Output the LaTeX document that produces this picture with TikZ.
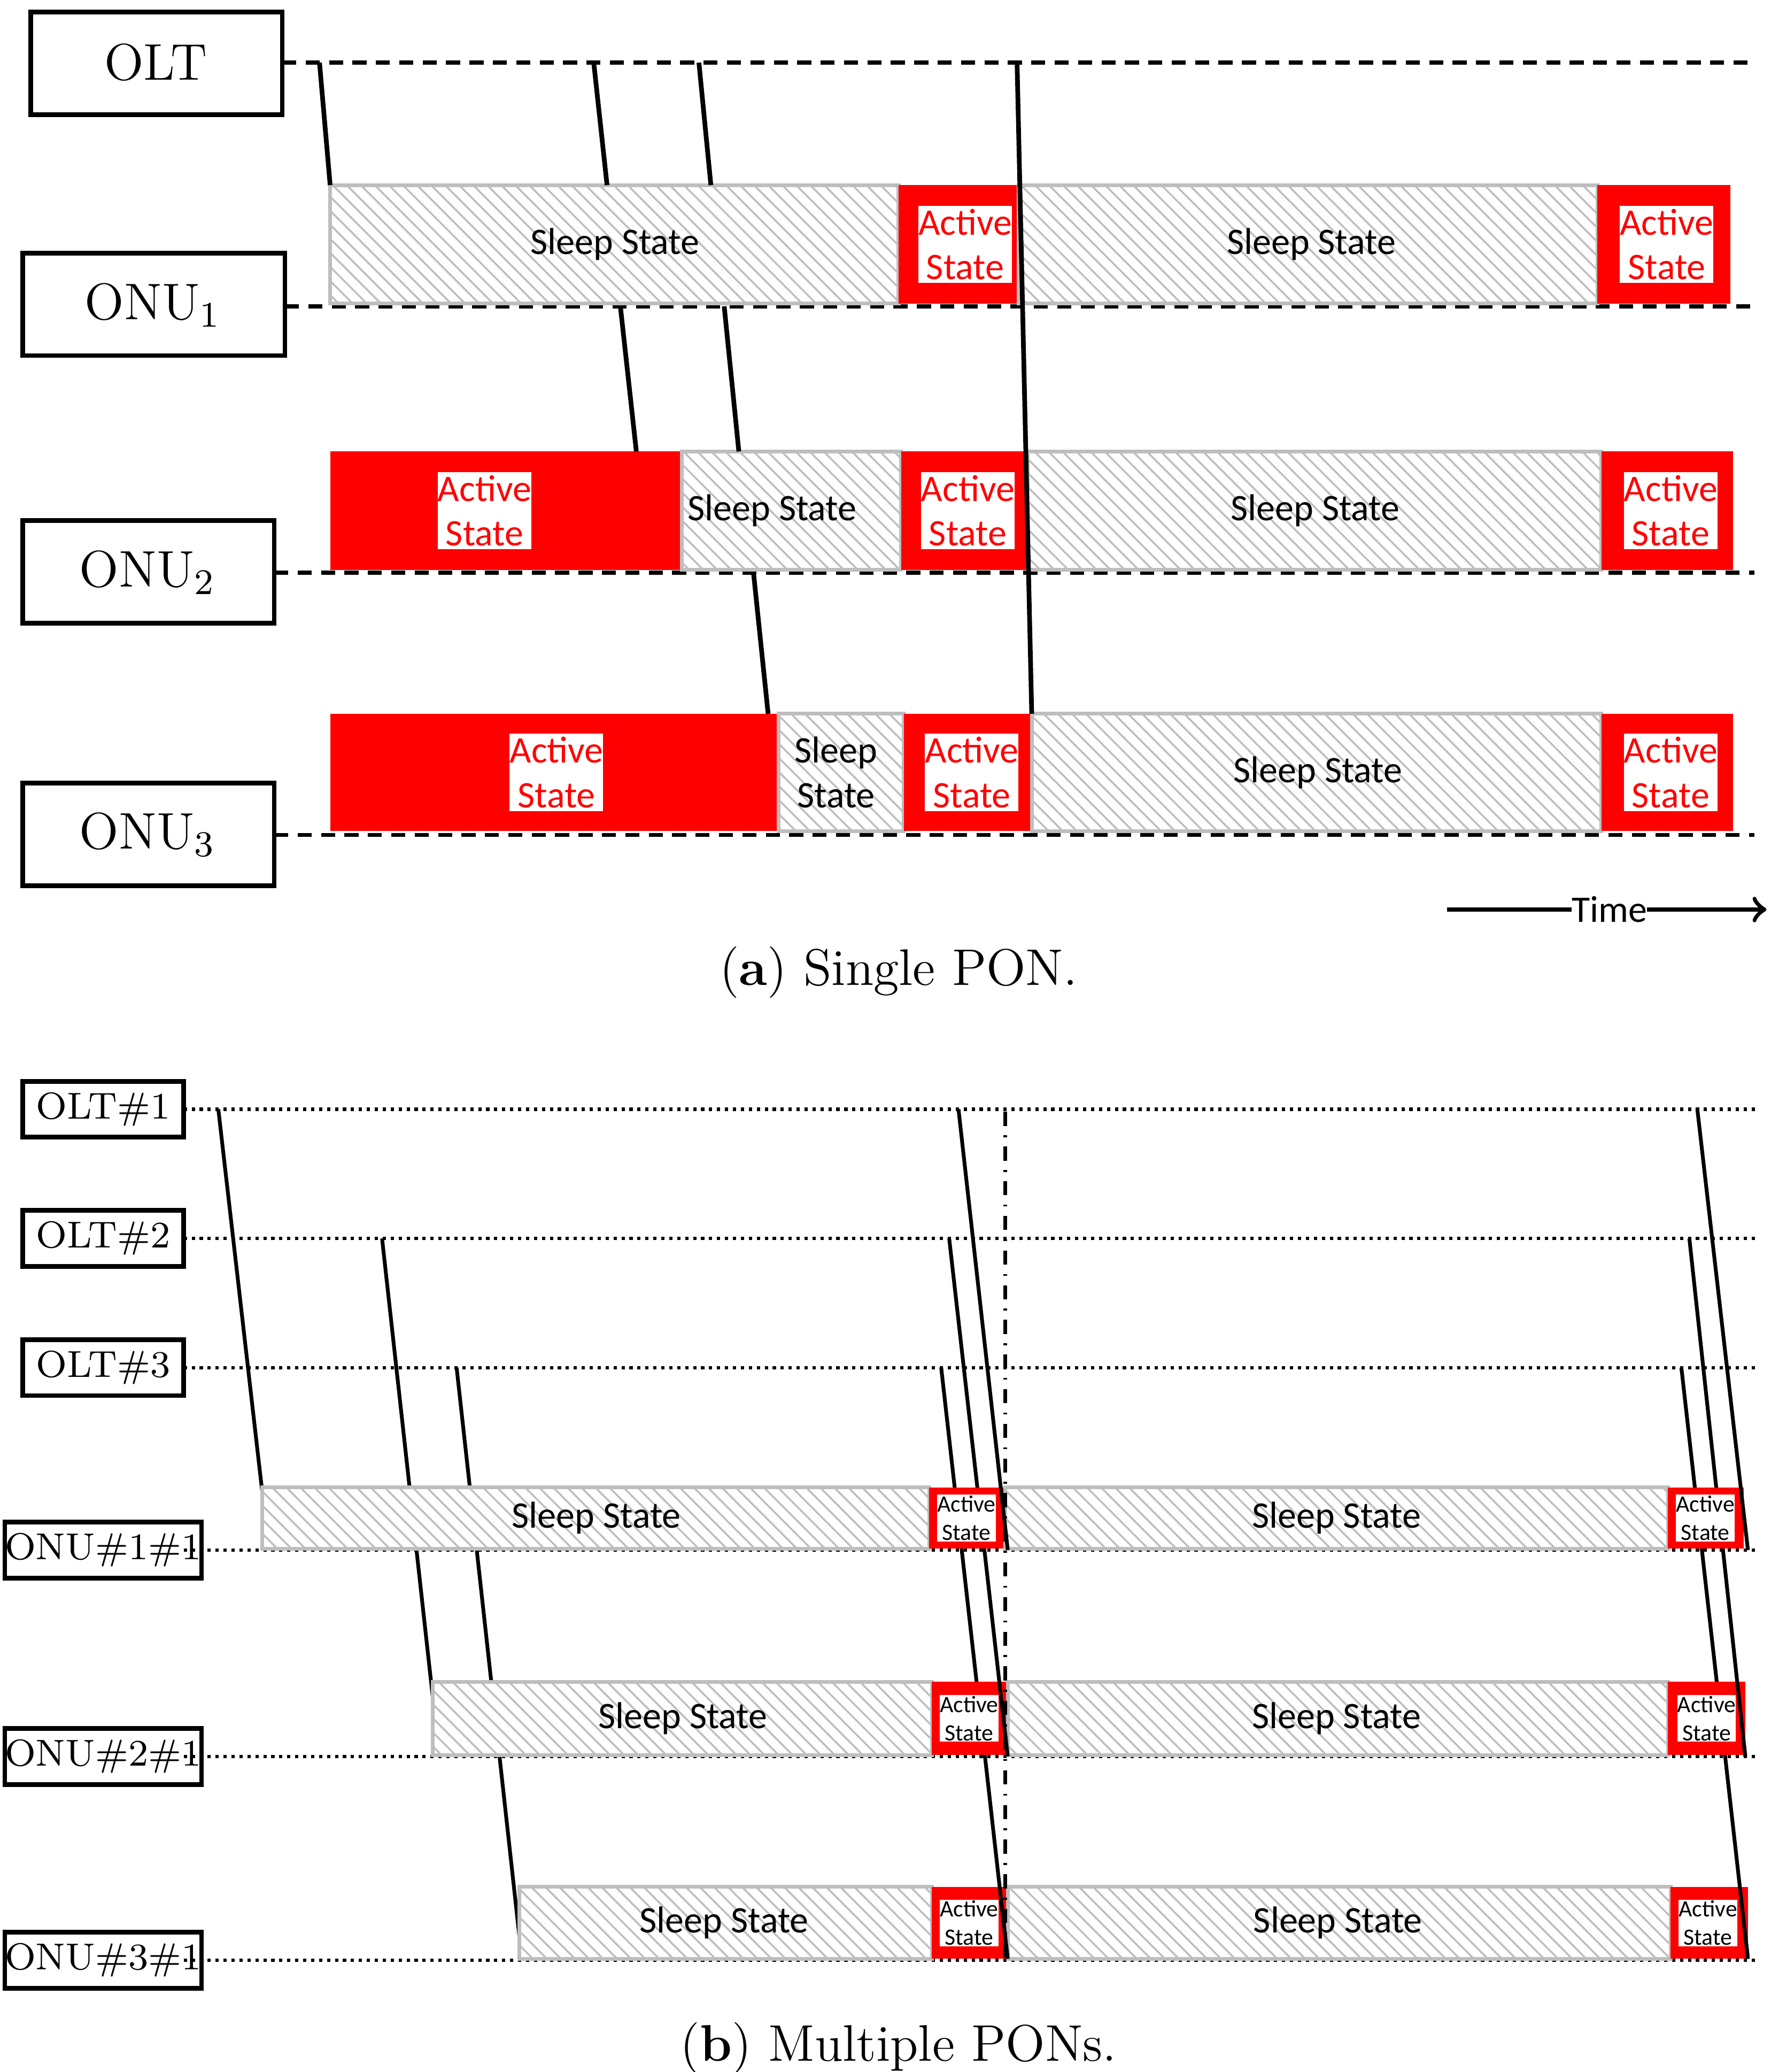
\documentclass[tikz,border=0pt]{standalone}
\usepackage{fontspec}
\usetikzlibrary{patterns}
\newfontfamily\calfont{Carlito}
\definecolor{hatch}{RGB}{190,190,190}
\newcommand\slpbar[6]{% x1 x2 y1 y2 text textx
  \filldraw[draw=hatch,line width=0.8pt,fill=white,postaction={pattern=north west lines,pattern color=hatch}] (#1,#3) rectangle (#2,#4);
  \node[sleeptxt] at (#6,{(#3+#4)/2}) {#5};}
\newcommand\actbar[6]{% x1 x2 y1 y2 textx style
  \fill[red] (#1,#3) rectangle (#2,#4);
  \node[#6] at (#5,{(#3+#4)/2}) {Active\\State};}
\begin{document}
\begin{tikzpicture}[x=0.01cm,y=-0.01cm,
  lbl/.style={draw,line width=1pt,inner sep=0pt},
  tl/.style={densely dashed,line width=0.9pt},
  tlb/.style={densely dotted,line width=0.7pt},
  msg/.style={line width=1pt},
  sleeptxt/.style={font=\calfont\fontsize{8}{9.5}\selectfont,align=center},
  acta/.style={fill=white,text=red,font=\calfont\fontsize{8}{9.5}\selectfont,align=center,inner sep=0pt,minimum width=0.6cm,minimum height=0.58cm},
  actb/.style={fill=white,text=black,font=\calfont\fontsize{5}{6}\selectfont,align=center,inner sep=0pt,minimum width=0.37cm,minimum height=0.35cm}]
\useasboundingbox (0,0) rectangle (1330,1556);
% ---------- (a) ----------
\draw[lbl] (23,9) rectangle (212,86); \node[font=\fontsize{11}{13}\selectfont] (olt) at (117,47) {OLT};
\draw[lbl] (17,190) rectangle (214,267); \node[font=\fontsize{11}{13}\selectfont] (onu1) at (115,229) {ONU\textsubscript{1}};
\draw[lbl] (17,391) rectangle (206,468); \node[font=\fontsize{11}{13}\selectfont] (onu2) at (111,430) {ONU\textsubscript{2}};
\draw[lbl] (17,588) rectangle (206,665); \node[font=\fontsize{11}{13}\selectfont] (onu3) at (111,627) {ONU\textsubscript{3}};
\draw[tl] (212,47) -- (1318,47);
\draw[tl] (214,230) -- (1318,230);
\draw[tl] (206,430) -- (1318,430);
\draw[tl] (206,627) -- (1318,627);
\slpbar{248}{675}{139}{228}{Sleep State}{462}
\actbar{675}{765}{139}{228}{725}{acta}
\slpbar{765}{1200}{139}{228}{Sleep State}{985}
\actbar{1200}{1300}{139}{228}{1252}{acta}
\actbar{248}{512}{339}{428}{364}{acta}
\slpbar{512}{677}{339}{428}{Sleep State}{580}
\actbar{677}{772}{339}{428}{727}{acta}
\slpbar{772}{1203}{339}{428}{Sleep State}{988}
\actbar{1203}{1302}{339}{428}{1255}{acta}
\actbar{248}{585}{536}{624}{418}{acta}
\slpbar{585}{679}{536}{624}{Sleep\\State}{628}
\actbar{679}{775}{536}{624}{730}{acta}
\slpbar{775}{1203}{536}{624}{Sleep State}{990}
\actbar{1203}{1302}{536}{624}{1255}{acta}
\draw[msg] (240,47) -- (248,139);
\draw[msg] (446,47) -- (456,139);
\draw[msg] (525,47) -- (534,139);
\draw[msg] (764,47) -- (775,536);
\draw[msg] (466,230) -- (478,339);
\draw[msg] (544,230) -- (555,339);
\draw[msg] (566,430) -- (577,536);
\coordinate (ts) at (1087,683); \coordinate (te) at (1327,683);
\draw[line width=1pt,->] (ts) -- (te);
\node[font=\calfont\fontsize{8}{9.5}\selectfont,fill=white,inner sep=0pt] (time) at (1209,683) {Time};
\node[font=\fontsize{11}{13}\selectfont] (capa) at (675,730) {(\textbf{a}) Single PON.};
% ---------- (b) ----------
\foreach \n/\t/\y in {b1/OLT\#1/833, b2/OLT\#2/930, b3/OLT\#3/1027, b4/ONU\#1\#1/1164, b5/ONU\#2\#1/1319, b6/ONU\#3\#1/1472}{
  \node[lbl,minimum width=1.21cm,minimum height=0.42cm,font=\fontsize{8}{9.5}\selectfont] (\n) at (77.5,\y) {\t};
  \draw[tlb] (138,\y) -- (1320,\y);
}
\draw[msg,line width=0.8pt] (164,833) -- (202,1164);
\draw[msg,line width=0.8pt] (287,930) -- (330,1319);
\draw[msg,line width=0.8pt] (343,1027) -- (392,1471);
\draw[msg,line width=0.8pt] (713,930) -- (757,1319);
\draw[msg,line width=0.8pt] (707,1027) -- (757,1471);
\draw[msg,line width=0.8pt] (1269,930) -- (1311,1319);
\draw[msg,line width=0.8pt] (1263,1027) -- (1313,1471);
\slpbar{197}{698}{1117}{1163}{Sleep State}{448}
\actbar{698}{755}{1117}{1163}{726}{actb}
\slpbar{755}{1253}{1117}{1163}{Sleep State}{1004}
\actbar{1253}{1310}{1117}{1163}{1281}{actb}
\slpbar{325}{700}{1263}{1318}{Sleep State}{513}
\actbar{700}{757}{1263}{1318}{728}{actb}
\slpbar{757}{1253}{1263}{1318}{Sleep State}{1004}
\actbar{1253}{1311}{1263}{1318}{1282}{actb}
\slpbar{390}{700}{1417}{1471}{Sleep State}{544}
\actbar{700}{757}{1417}{1471}{728}{actb}
\slpbar{757}{1255}{1417}{1471}{Sleep State}{1005}
\actbar{1255}{1313}{1417}{1471}{1283}{actb}
% visible final hops
\draw[msg,line width=0.8pt] (720,833) -- (757,1164);
\draw[msg,line width=0.8pt] (1275,833) -- (1313,1164);
\draw[msg,line width=0.8pt] (750.7,1263) -- (757,1319);
\draw[msg,line width=0.8pt] (750.9,1417) -- (757,1471);
\draw[msg,line width=0.8pt] (1305,1263) -- (1311,1319);
\draw[msg,line width=0.8pt] (1306.9,1417) -- (1313,1471);
\draw[dash dot,line width=0.8pt] (755,835) -- (755,1476);
\node[font=\fontsize{11}{13}\selectfont] (capb) at (675,1538) {(\textbf{b}) Multiple PONs.};
\end{tikzpicture}
\end{document}
